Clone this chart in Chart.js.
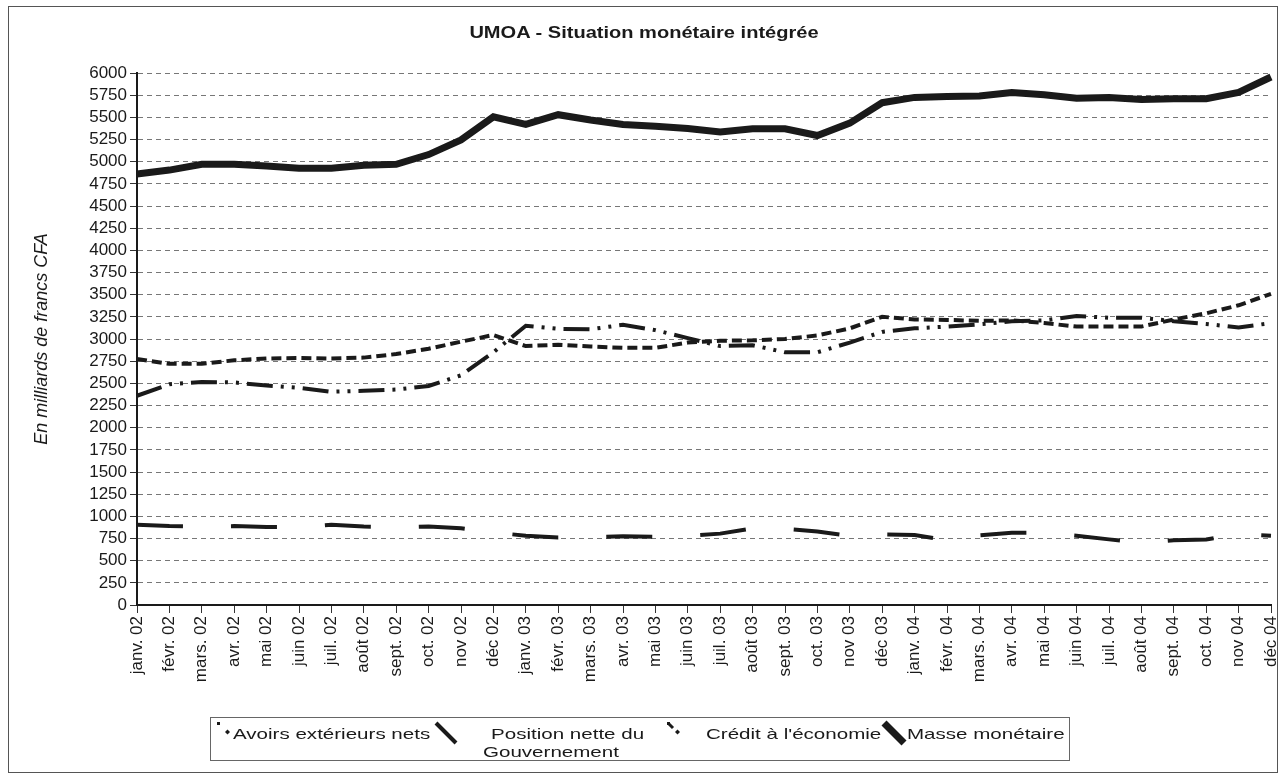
<!DOCTYPE html>
<html>
<head>
<meta charset="utf-8">
<script src="https://cdn.jsdelivr.net/npm/chart.js@4/dist/chart.umd.min.js"></script>
<style>
  body { margin: 0; background: #fff; font-family: "Liberation Sans", Arial, sans-serif; color: #1a1a1a; }
  #cadre { position: absolute; left: 8px; top: 6px; width: 1268px; height: 765px; border: 1px solid #555; }
  #titre { position: absolute; left: 0; top: 23px; width: 1288px; text-align: center; font-weight: bold; font-size: 17px;
           transform: scaleX(1.18); transform-origin: 644px 0; }
  #zone { position: absolute; left: 0; top: 0; width: 1281px; height: 690px; }
  #legende { position: absolute; left: 210px; top: 717px; width: 858px; height: 42px; border: 1px solid #666;
             font-size: 15px; }
  #legende canvas { position: absolute; top: 0; }
  #legende span { position: absolute; line-height: 18px; white-space: nowrap; transform: scaleX(1.37); transform-origin: 0 0; }
</style>
</head>
<body>
<div id="cadre"></div>
<div id="zone"><canvas id="grafico"></canvas></div>
<div id="titre">UMOA - Situation monétaire intégrée</div>
<div id="legende"></div>
<script>
// === DONNEES ===
const mois = ['janv. 02','févr. 02','mars. 02','avr. 02','mai 02','juin 02','juil. 02','août 02','sept. 02','oct. 02','nov 02','déc 02',
              'janv. 03','févr. 03','mars. 03','avr. 03','mai 03','juin 03','juil. 03','août 03','sept. 03','oct. 03','nov 03','déc 03',
              'janv. 04','févr. 04','mars. 04','avr. 04','mai 04','juin 04','juil. 04','août 04','sept. 04','oct. 04','nov 04','déc 04'];
const avoirs = [2360,2490,2515,2510,2475,2450,2405,2415,2430,2470,2590,2850,
                3150,3115,3110,3160,3100,3010,2920,2930,2850,2850,2960,3080,
                3120,3140,3165,3200,3210,3260,3240,3240,3200,3170,3130,3180];
const position = [905,890,885,890,880,880,905,885,875,885,865,820,
                  780,760,765,775,770,780,805,865,860,830,780,795,
                  790,730,785,815,815,780,740,700,730,740,800,780];
const credit = [2775,2720,2720,2760,2780,2785,2780,2790,2830,2890,2970,3045,
                2920,2935,2915,2900,2900,2960,2980,2985,3000,3040,3120,3250,
                3220,3215,3205,3210,3180,3140,3140,3140,3220,3290,3380,3510];
const masse = [4860,4905,4970,4970,4950,4925,4925,4960,4970,5080,5245,5505,
               5420,5530,5470,5420,5400,5375,5335,5370,5370,5295,5435,5665,
               5725,5735,5740,5780,5755,5715,5725,5700,5710,5710,5780,5955];

const police = '"Liberation Sans", Arial, sans-serif';
const noir = '#1a1a1a';

// === GRAFICO ===
const series = [
  { label: 'Avoirs extérieurs nets', data: avoirs, borderWidth: 4, borderDash: [26, 8, 3, 8, 3, 8] },
  { label: 'Position nette du\nGouvernement', data: position, borderWidth: 4, borderDash: [46, 48] },
  { label: "Crédit à l'économie", data: credit, borderWidth: 4, borderDash: [10, 5] },
  { label: 'Masse monétaire', data: masse, borderWidth: 7, borderDash: [] }
];

const ctx = document.getElementById('grafico').getContext('2d');
const chart = new Chart(ctx, {
  type: 'line',
  data: {
    labels: mois,
    datasets: series.map(s => ({
      label: s.label,
      data: s.data,
      borderColor: noir,
      backgroundColor: noir,
      borderWidth: s.borderWidth,
      borderDash: s.borderDash,
      borderCapStyle: 'butt',
      borderJoinStyle: 'miter',
      pointRadius: 0,
      tension: 0
    }))
  },
  options: {
    responsive: true,
    maintainAspectRatio: false,
    animation: false,
    layout: { padding: { left: 0, right: 0, top: 73, bottom: 0 } },
    plugins: {
      legend: { display: false },
      tooltip: { enabled: false },
      title: { display: false }
    },
    scales: {
      x: {
        offset: false,
        grid: { drawOnChartArea: false, drawTicks: true, tickLength: 8, color: '#333', lineWidth: 1 },
        border: { display: true, color: noir, width: 2 },
        ticks: { color: noir, font: { family: police, size: 17 }, minRotation: 90, maxRotation: 90, autoSkip: false, padding: 3 },
        afterFit: (axe) => { axe.height = 85; axe.paddingRight = 10; axe.paddingLeft = 0; }
      },
      y: {
        min: 0,
        max: 6000,
        ticks: { stepSize: 250, autoSkip: false, color: noir, font: { family: police, size: 17, lineHeight: 1.1 }, padding: 3,
                 callback: (v) => String(v) },
        grid: { color: '#777', lineWidth: 1, tickLength: 7, tickColor: '#333', tickBorderDash: [] },
        border: { display: true, color: noir, width: 2, dash: [5, 4] },
        title: {
          display: true,
          text: 'En milliards de francs CFA',
          color: noir,
          font: { family: police, size: 18, style: 'italic' },
          padding: { top: 31, bottom: 0 }
        },
        afterFit: (axe) => { axe.width = 137; }
      }
    }
  }
});

// === LEGENDE ===
// symbole: x du canvas dans la boite; textes: [texte, x, y]
const legendes = [
  { sym: 2, textes: [['Avoirs extérieurs nets', 22, 7]] },
  { sym: 220, textes: [['Position nette du', 280, 7], ['Gouvernement', 272, 25]] },
  { sym: 452, textes: [["Crédit à l'économie", 495, 7]] },
  { sym: 668, textes: [['Masse monétaire', 696, 7]] }
];
const boite = document.getElementById('legende');
series.forEach((s, i) => {
  const l = legendes[i];
  const c = document.createElement('canvas');
  c.width = 30; c.height = 30;
  c.style.left = l.sym + 'px';
  const g = c.getContext('2d');
  g.strokeStyle = noir;
  g.fillStyle = noir;
  if (i === 0 || i === 2) {
    // petits points comme dans l'original
    g.fillRect(4, 4, 3, 3);
    g.beginPath(); g.moveTo(12, 14); g.lineTo(14.5, 11.5); g.lineTo(17, 14); g.lineTo(14.5, 16.5); g.fill();
    if (i === 2) { g.lineWidth = 3; g.beginPath(); g.moveTo(6, 6); g.lineTo(10, 10); g.stroke(); }
  } else {
    g.lineWidth = s.borderWidth;
    g.lineCap = 'butt';
    g.beginPath(); g.moveTo(5, 5); g.lineTo(25, 25); g.stroke();
  }
  boite.appendChild(c);
  l.textes.forEach(([txt, x, y]) => {
    const t = document.createElement('span');
    t.textContent = txt;
    t.style.left = x + 'px';
    t.style.top = y + 'px';
    boite.appendChild(t);
  });
});
</script>
</body>
</html>
